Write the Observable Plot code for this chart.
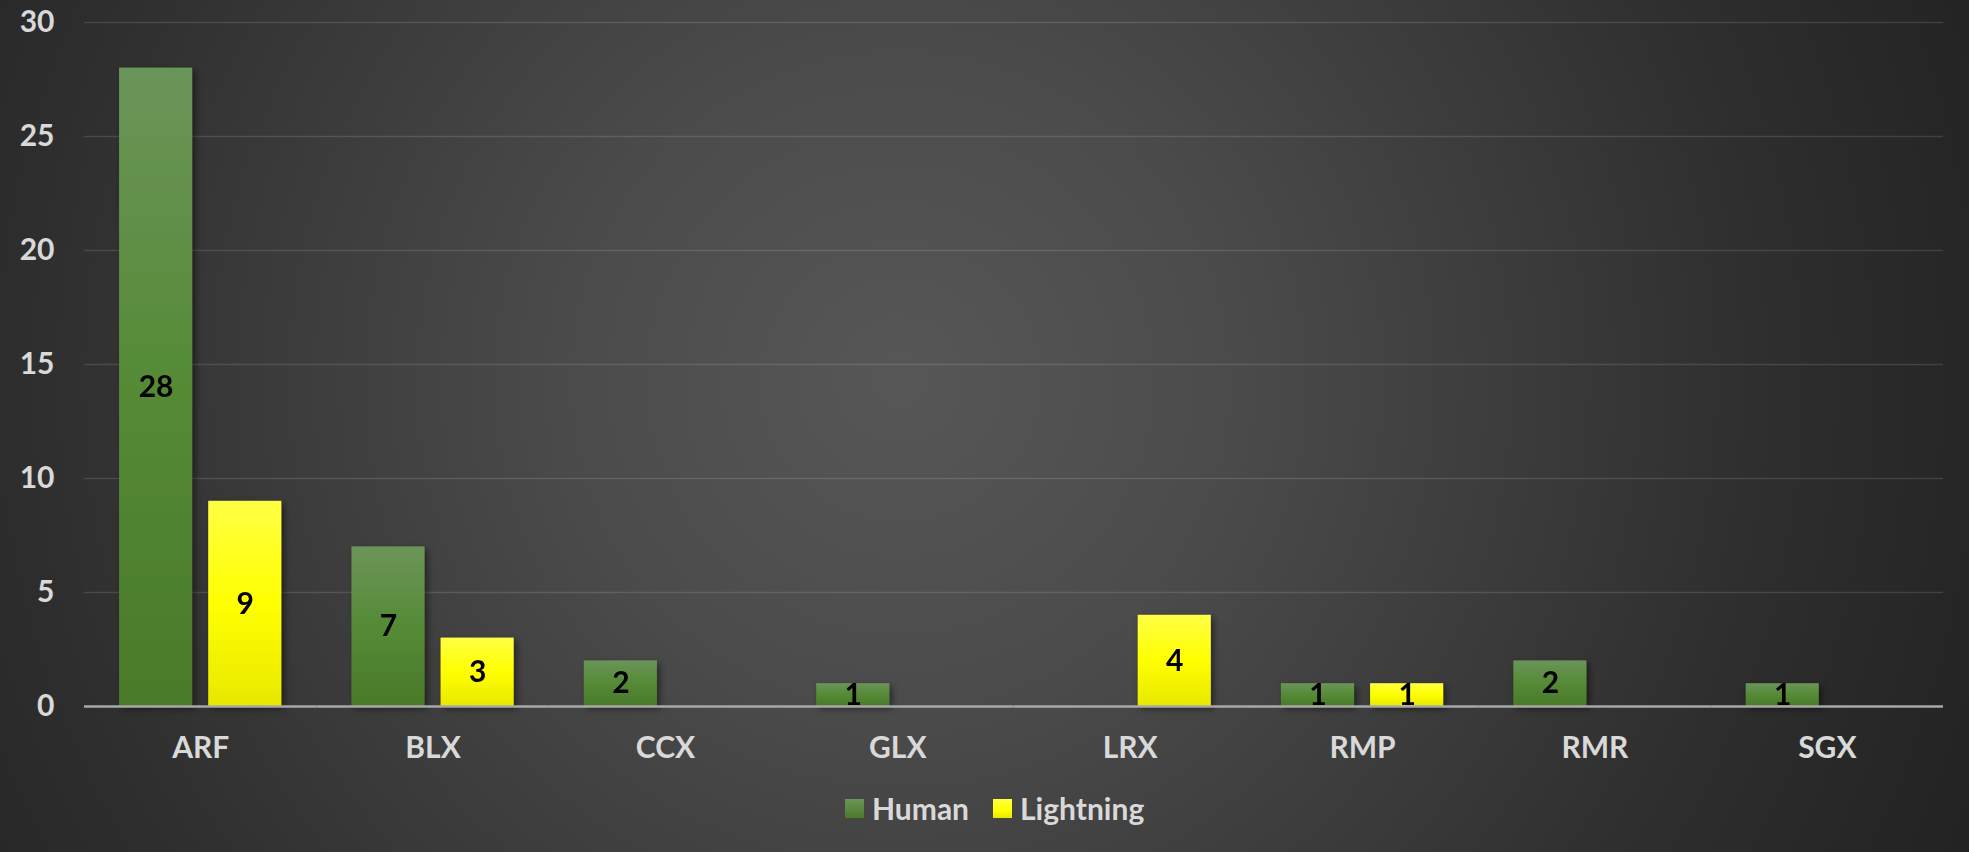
<!DOCTYPE html>
<html>
<head>
<meta charset="utf-8">
<script src="https://cdn.jsdelivr.net/npm/d3@7"></script>
<script src="https://cdn.jsdelivr.net/npm/@observablehq/plot@0.6"></script>
<style>
  html, body { margin: 0; padding: 0; }
  body { width: 1969px; height: 852px; overflow: hidden; }
  #wrap {
    position: relative; width: 1969px; height: 852px;
    background: radial-gradient(circle at 900px 380px, #575757 0px, #4b4b4b 330px, #2e2e2e 870px, #232323 1150px);
    font-family: Lato, "Open Sans", sans-serif;
  }
  #chart { position: absolute; left: 0; top: 0; }
  #legend {
    position: absolute; left: 845px; top: 790px;
    display: flex; align-items: center; gap: 0;
    font-family: Lato, sans-serif; font-weight: bold; font-size: 30px; color: #d9d9d9;
  }
  .sw { width: 19px; height: 19px; display: inline-block; margin-right: 8px; }
  .item { display: flex; align-items: center; margin-right: 24px; }
</style>
</head>
<body>
<div id="wrap">
  <div id="chart"></div>
  <div id="legend"></div>
</div>
<script>
const categories = ["ARF", "BLX", "CCX", "GLX", "LRX", "RMP", "RMR", "SGX"];
const seriesNames = ["Human", "Lightning"];
const human = [28, 7, 2, 1, 0, 1, 2, 1];
const lightning = [9, 3, 0, 0, 4, 1, 0, 0];
const yTicks = [0, 5, 10, 15, 20, 25, 30];

const rows = [];
categories.forEach((c, i) => {
  rows.push({cat: c, series: "Human", value: human[i]});
  rows.push({cat: c, series: "Lightning", value: lightning[i]});
});
const shown = rows.filter(d => d.value > 0);
const humanRows = shown.filter(d => d.series === "Human");
const lightRows = shown.filter(d => d.series === "Lightning");

const chart = Plot.plot({
  width: 1969,
  height: 770,
  marginLeft: 84,
  marginRight: 26,
  marginTop: 22,
  marginBottom: 64,
  style: {background: "transparent", color: "#d9d9d9", fontFamily: "Lato, sans-serif", fontSize: "30px", fontWeight: "bold"},
  fx: {domain: categories, padding: 0, round: false, label: null, axis: "bottom", tickSize: 0, tickPadding: 30},
  x: {domain: seriesNames, paddingInner: 0.18, paddingOuter: 0.3935, round: false, axis: null},
  y: {domain: [0, 30], ticks: yTicks, tickSize: 0, tickPadding: 30, label: null},
  marks: [
    Plot.ruleY(yTicks.filter(t => t > 0), {stroke: "#ffffff", strokeOpacity: 0.12, strokeWidth: 1.5}),
    Plot.barY(humanRows, {fx: "cat", x: "series", y: "value", fill: "url(#gHuman)"}),
    Plot.barY(lightRows, {fx: "cat", x: "series", y: "value", fill: "url(#gLight)"}),
    Plot.ruleY([0], {stroke: "#a8a8a8", strokeWidth: 2.5}),
    Plot.text(shown, {fx: "cat", x: "series", y: d => d.value / 2, text: d => String(d.value),
      fill: "#000", fontSize: 30, fontWeight: "bold", fontFamily: "Lato, sans-serif"})
  ]
});
document.getElementById("chart").appendChild(chart);

const svg = d3.select(chart);
const defs = svg.insert("defs", ":first-child");
const gH = defs.append("linearGradient").attr("id", "gHuman").attr("x1", 0).attr("y1", 0).attr("x2", 0).attr("y2", 1);
gH.append("stop").attr("offset", "0%").attr("stop-color", "#6b9559");
gH.append("stop").attr("offset", "50%").attr("stop-color", "#558a36");
gH.append("stop").attr("offset", "100%").attr("stop-color", "#4a7a2a");
const gL = defs.append("linearGradient").attr("id", "gLight").attr("x1", 0).attr("y1", 0).attr("x2", 0).attr("y2", 1);
gL.append("stop").attr("offset", "0%").attr("stop-color", "#ffff45");
gL.append("stop").attr("offset", "50%").attr("stop-color", "#ffff00");
gL.append("stop").attr("offset", "100%").attr("stop-color", "#e8e800");
const f = defs.append("filter").attr("id", "shadow").attr("x", "-20%").attr("y", "-20%").attr("width", "150%").attr("height", "150%");
f.append("feDropShadow").attr("dx", 3).attr("dy", 3).attr("stdDeviation", 3).attr("flood-color", "#000").attr("flood-opacity", 0.45);
svg.selectAll("g[aria-label='bar']").attr("filter", "url(#shadow)");

const legend = document.getElementById("legend");
const swatchCss = {
  Human: "linear-gradient(#6b9559, #4a7a2a)",
  Lightning: "linear-gradient(#ffff45, #ffff00 60%, #e8e800)"
};
seriesNames.forEach(s => {
  const item = document.createElement("div");
  item.className = "item";
  const sw = document.createElement("span");
  sw.className = "sw";
  sw.style.background = swatchCss[s];
  const t = document.createElement("span");
  t.textContent = s;
  item.appendChild(sw);
  item.appendChild(t);
  legend.appendChild(item);
});
</script>
</body>
</html>
